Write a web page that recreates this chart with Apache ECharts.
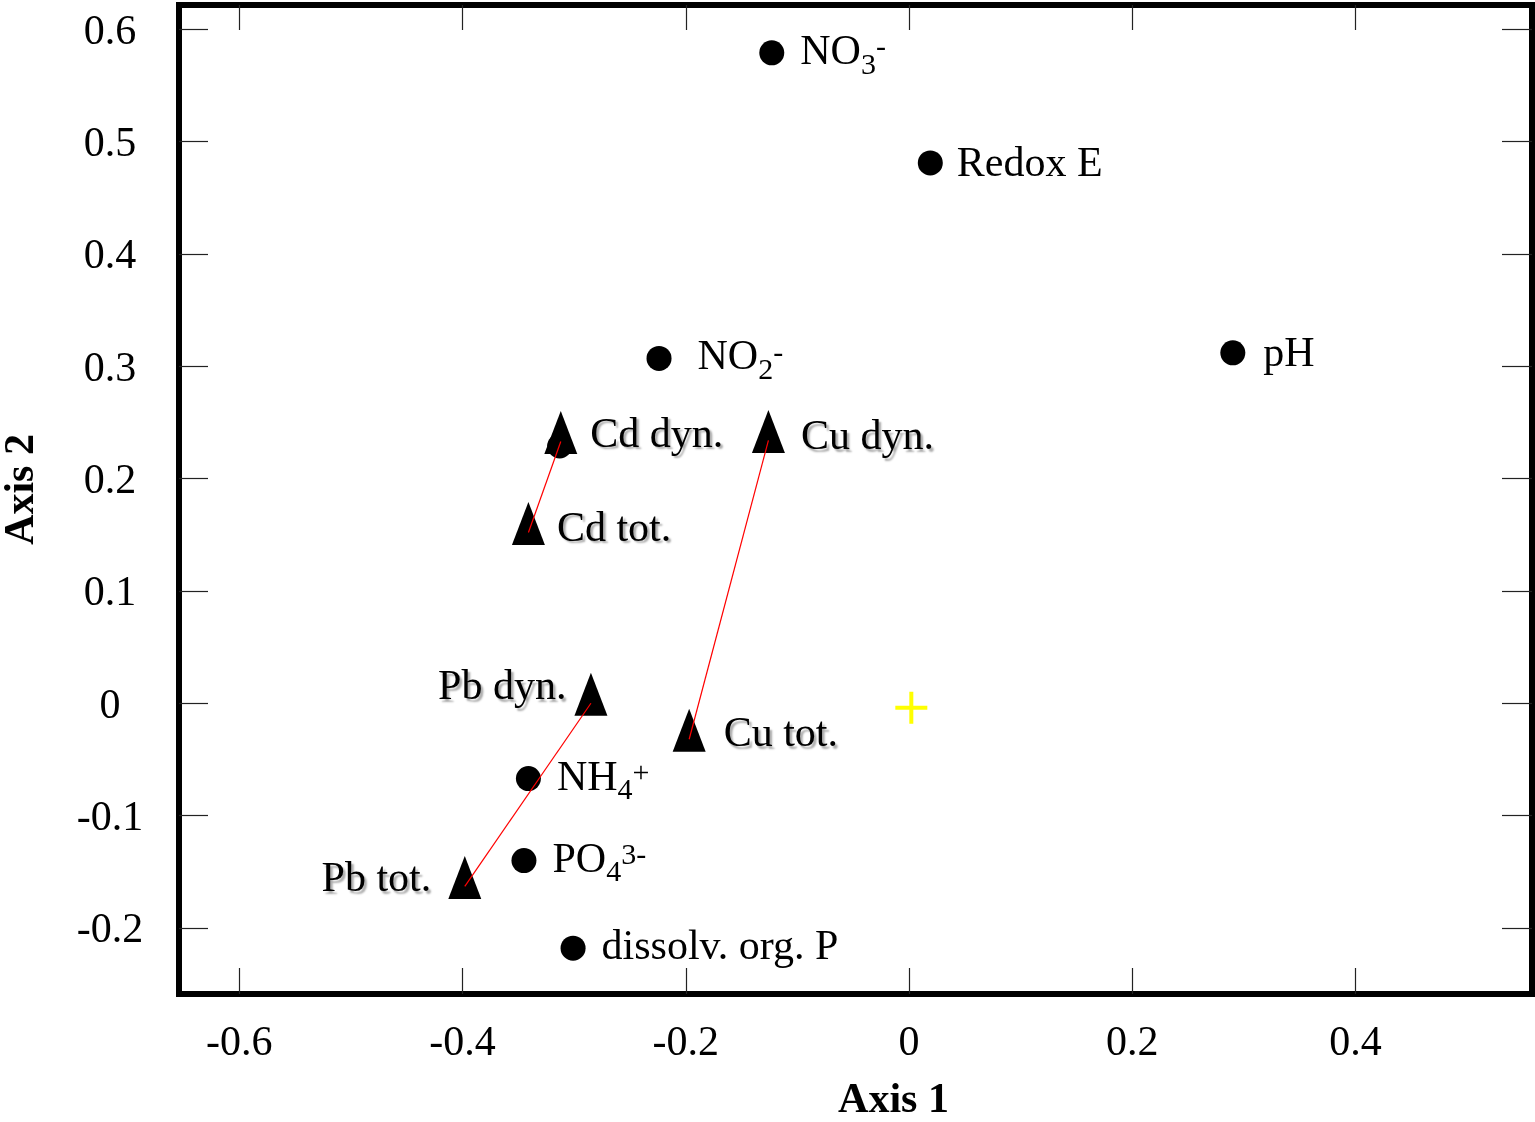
<!DOCTYPE html>
<html>
<head>
<meta charset="utf-8">
<script src="https://cdn.jsdelivr.net/npm/echarts@6/dist/echarts.min.js"></script>
<style>
  html, body { margin: 0; padding: 0; background: #fff; }
  #main { width: 1535px; height: 1122px; }
</style>
</head>
<body>
<div id="main"></div>
<script>
// environmental variables (circles)
const circleNames = ['NO3-', 'Redox E', 'pH', 'NO2-', '', 'NH4+', 'PO43-', 'dissolv. org. P'];
const circleX = [-0.123, 0.019, 0.290, -0.224, -0.313, -0.341, -0.345, -0.301];
const circleY = [0.579, 0.481, 0.312, 0.307, 0.229, -0.067, -0.140, -0.218];

// metal fractions (triangles)
const triNames = ['Cd dyn.', 'Cd tot.', 'Cu dyn.', 'Cu tot.', 'Pb dyn.', 'Pb tot.'];
const triX = [-0.312, -0.341, -0.126, -0.197, -0.285, -0.398];
const triY = [0.233, 0.152, 0.234, -0.032, 0.000, -0.163];

// dyn. -> tot. connections
const pairs = [['Cd dyn.', 'Cd tot.'], ['Cu dyn.', 'Cu tot.'], ['Pb dyn.', 'Pb tot.']];

// origin marker
const originX = [0.002];
const originY = [-0.004];

// axis ticks
const xTicks = [-0.6, -0.4, -0.2, 0, 0.2, 0.4];
const yTicks = [-0.2, -0.1, 0, 0.1, 0.2, 0.3, 0.4, 0.5, 0.6];
const xRange = [-0.654, 0.558];
const yRange = [-0.2588, 0.6216];

// rich text for chemical formulas
const richNames = {
	'NO3-': 'NO{sub|3}{sup|-}',
	'NO2-': 'NO{sub|2}{sup|-}',
	'NH4+': 'NH{sub|4}{sup|+}',
	'PO43-': 'PO{sub|4}{sup|3-}'
};
const labelTweak = {
	'NO2-': { offset: [10, 0] },
	'Redox E': { offset: [-2, 2] },
	'pH': { offset: [2, 2] },
	'Cd dyn.': { offset: [-3, 3] },
	'Cu dyn.': { offset: [0, 7] },
	'Cd tot.': { offset: [-4, 6] },
	'Cu tot.': { offset: [2, 5] },
	'Pb dyn.': { position: 'left', distance: 8, offset: [0, -6] },
	'Pb tot.': { position: 'left', distance: 17, offset: [0, 3] }
};

const FONT = 'Liberation Serif';
const richStyle = {
	sub: { fontSize: 30, fontFamily: FONT, height: 30, verticalAlign: 'bottom', color: '#000' },
	sup: { fontSize: 30, fontFamily: FONT, height: 30, verticalAlign: 'middle', padding: [0, 0, 9, 0], color: '#000' }
};

function pointLabel(name, shadow) {
	let t = labelTweak[name] || {};
	let lb = {
		show: name !== '',
		position: t.position || 'right',
		distance: t.distance != null ? t.distance : 16,
		offset: t.offset || [0, 0],
		formatter: () => richNames[name] || name,
		fontFamily: FONT,
		fontSize: 42,
		lineHeight: 56,
		color: '#000',
		opacity: 1,
		rich: richStyle
	};
	if (shadow) {
		lb.textShadowColor = 'rgba(0,0,0,0.33)';
		lb.textShadowBlur = 2;
		lb.textShadowOffsetX = 2.5;
		lb.textShadowOffsetY = 2.5;
	}
	return lb;
}

const circleData = circleNames.map((n, i) => ({
	name: n, value: [circleX[i], circleY[i]], label: pointLabel(n, false)
}));
const triData = triNames.map((n, i) => ({
	name: n, value: [triX[i], triY[i]], label: pointLabel(n, true)
}));

let lineSeries = pairs.map((p) => {
	let a = triNames.indexOf(p[0]), b = triNames.indexOf(p[1]);
	return {
		type: 'line',
		data: [[triX[a], triY[a]], [triX[b], triY[b]]],
		showSymbol: false,
		symbol: 'none',
		lineStyle: { color: '#ff0000', width: 1.2, opacity: 1 },
		silent: true,
		z: 5
	};
});

const tickLabel = { fontFamily: FONT, fontSize: 42, color: '#000' };
const tickLine = { color: '#222', width: 1.2 };

const myChart = echarts.init(document.getElementById('main'));
myChart.setOption({
	animation: false,
	backgroundColor: '#fff',
	grid: {
		left: 179, right: 3, top: 5, bottom: 128,
		containLabel: false,
		outerBoundsMode: 'none',
		show: true,
		borderColor: '#000',
		borderWidth: 6
	},
	xAxis: [{
		type: 'value',
		position: 'bottom',
		min: xRange[0], max: xRange[1],
		name: 'Axis 1',
		nameLocation: 'middle',
		nameGap: 86,
		nameTextStyle: { fontFamily: FONT, fontSize: 42, fontWeight: 'bold', color: '#000', padding: [0, 0, 0, 76] },
		axisLine: { show: false, onZero: false },
		axisTick: { show: true, inside: true, length: 26, customValues: xTicks, lineStyle: tickLine },
		axisLabel: Object.assign({ customValues: xTicks, margin: 29 }, tickLabel),
		splitLine: { show: false }
	}, {
		type: 'value',
		position: 'top',
		min: xRange[0], max: xRange[1],
		axisLine: { show: false, onZero: false },
		axisTick: { show: true, inside: true, length: 25, customValues: xTicks, lineStyle: tickLine },
		axisLabel: { show: false },
		splitLine: { show: false }
	}],
	yAxis: [{
		type: 'value',
		position: 'left',
		min: yRange[0], max: yRange[1],
		name: 'Axis 2',
		nameLocation: 'middle',
		nameGap: 136,
		nameTextStyle: { fontFamily: FONT, fontSize: 42, fontWeight: 'bold', color: '#000', padding: [0, 0, 0, 20] },
		axisLine: { show: false, onZero: false },
		axisTick: { show: true, inside: true, length: 29, customValues: yTicks, lineStyle: tickLine },
		axisLabel: Object.assign({
			customValues: yTicks, margin: 69, align: 'center',
			formatter: (v) => '{v|' + v + '}',
			rich: { v: { fontFamily: FONT, fontSize: 42, color: '#000', padding: [7, 0, 0, 0] } }
		}, tickLabel),
		splitLine: { show: false }
	}, {
		type: 'value',
		position: 'right',
		min: yRange[0], max: yRange[1],
		axisLine: { show: false, onZero: false },
		axisTick: { show: true, inside: true, length: 30, customValues: yTicks, lineStyle: tickLine },
		axisLabel: { show: false },
		splitLine: { show: false }
	}],
	series: [{
		name: 'variables',
		type: 'scatter',
		symbol: 'circle',
		symbolSize: 25,
		itemStyle: { color: '#000', opacity: 1 },
		data: circleData,
		z: 3
	}, {
		name: 'metals',
		type: 'scatter',
		symbol: 'triangle',
		symbolSize: [33, 43],
		symbolOffset: [0, -9],
		itemStyle: { color: '#000', opacity: 1 },
		data: triData,
		z: 4
	}, {
		name: 'origin',
		type: 'scatter',
		symbol: 'path://M0,14H32V18H0Z M14,0H18V32H14Z',
		symbolSize: 32,
		itemStyle: { color: '#ffff00', opacity: 1 },
		data: originX.map((x, i) => [x, originY[i]]),
		z: 3
	}].concat(lineSeries)
});
</script>
</body>
</html>
